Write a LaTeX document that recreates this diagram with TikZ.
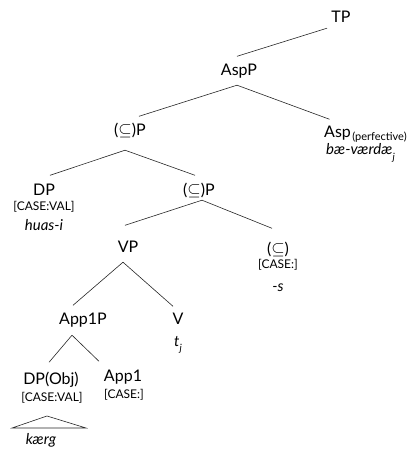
\documentclass[tikz,border=0pt]{standalone}
\usepackage{fontspec}
\setmainfont{Lato}
\usepackage{amssymb}
\newcommand{\lowsub}[1]{\raisebox{-0.35em}{\fontsize{10}{11}\selectfont #1}}

\begin{document}
\begin{tikzpicture}[x=1pt, y=-1pt,
    cat/.style={font=\fontsize{16}{18}\selectfont, text height=11.5pt, text depth=3pt, inner xsep=2pt, inner ysep=8pt, anchor=base},
    feat/.style={font=\fontsize{12}{14}\selectfont, inner sep=1pt, anchor=base},
    word/.style={font=\fontsize{15}{17}\selectfont\itshape, inner sep=1pt, anchor=base},
    branch/.style={draw=black!85, line width=0.6pt},
    roof/.style={draw=black!85, line width=0.6pt}
]
\useasboundingbox (0,0) rectangle (416,454);

% upper spine
\node[cat] (tp) at (341,23) {TP};
\node[cat] (aspp) at (239,76) {AspP};
\node[cat] (subp) at (130,136) {($\subseteq$)P};
\node[cat, anchor=base west] (asp) at (322,138) {Asp};
\node[feat, font=\fontsize{11}{12}\selectfont, anchor=base west, inner sep=0pt] (aspsub) at ([xshift=-1pt, yshift=-3pt]asp.base east) {(perfective)};
\node[word, anchor=base west] (aspword) at (325,155) {bæ-værdæ\lowsub{j}};

% specifier and lower (sub)P
\node[cat] (dp) at (44,196) {DP};
\node[feat] (dpcase) at (44,210) {[CASE:VAL]};
\node[word] (dpword) at (44,230) {huas-i};
\node[cat] (subpp) at (199,196) {($\subseteq$)P};

% VP and the head
\node[cat] (vp) at (128,252) {VP};
\node[cat] (subhead) at (278,254) {($\subseteq$)};
\node[feat] (headcase) at (278,268) {[CASE:]};
\node[word] (headword) at (278,291) {-s};

% applicative layer
\node[cat] (app1p) at (83,324) {App1P};
\node[cat] (v) at (178,324) {V};
\node[word] (vtrace) at (178,346) {t\lowsub{j}};
\node[cat] (dpobj) at (51,384) {DP(Obj)};
\node[feat] (objcase) at (52,401) {[CASE:VAL]};
\node[cat] (app1) at (123,381) {App1};
\node[feat] (app1case) at (124,398) {[CASE:]};
\node[word] (kaerg) at (41,444) {kærg};

% roof over the object
\coordinate (roofapex) at (47,416);
\coordinate (roofleft) at (12,428);
\coordinate (roofright) at (86,428);

\draw[branch] ([shift={(-14,-6)}]tp.south) -- ([shift={(-2,0)}]aspp.north);
\draw[branch] ([shift={(-2,-2)}]aspp.south) -- ([shift={(9,0)}]subp.north);
\draw[branch] ([shift={(-2,-2)}]aspp.south) -- ([shift={(-8,1)}]asp.north);
\draw[branch] ([shift={(-5,3)}]subp.south) -- ([shift={(6,-1)}]dp.north);
\draw[branch] ([shift={(-5,3)}]subp.south) -- ([shift={(-4,-1)}]subpp.north);
\draw[branch] ([shift={(3,-7)}]subpp.south) -- ([shift={(-3,-7)}]vp.north);
\draw[branch] ([shift={(3,-7)}]subpp.south) -- ([shift={(-6,-6)}]subhead.north);
\draw[branch] ([shift={(-5,-1)}]vp.south) -- ([shift={(-10,1)}]app1p.north);
\draw[branch] ([shift={(-5,-1)}]vp.south) -- ([shift={(-5,2)}]v.north);
\draw[branch] ([shift={(-11,0)}]app1p.south) -- ([shift={(-2,-2)}]dpobj.north);
\draw[branch] ([shift={(-11,0)}]app1p.south) -- ([shift={(-24,0)}]app1.north);
\draw[roof] (roofapex) -- (roofleft) -- (roofright) -- cycle;

\end{tikzpicture}
\end{document}
